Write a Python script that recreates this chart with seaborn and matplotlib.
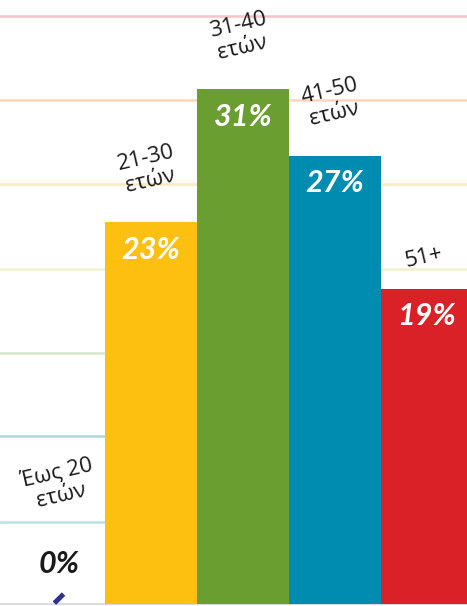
import matplotlib
matplotlib.use("Agg")
import matplotlib.pyplot as plt
import seaborn as sns
import pandas as pd

# age groups and share of respondents (%)
categories = ["Έως 20", "21-30", "31-40", "41-50", "51+"]
labels = ["Έως 20\nετών", "21-30\nετών", "31-40\nετών", "41-50\nετών", "51+"]
values = [0, 23, 31, 27, 19]
bar_colors = ["#2e3192", "#fdc010", "#6b9e30", "#008cb0", "#da2128"]

# decorative guide lines (in % units)
grid_levels = [4.95, 10.1, 15.15, 20.2, 25.3, 30.35, 35.4]
grid_colors = ["#b9dfe9", "#b3d7db", "#d6e7c9", "#eef3cf", "#fbe9b9", "#fbd6bd", "#f5c3c8"]

df = pd.DataFrame({"group": categories, "pct": values})

sns.set_style("white")
plt.rcParams["font.family"] = ["Open Sans", "DejaVu Sans"]

fig = plt.figure(figsize=(4.67, 6.06), dpi=100)
ax = fig.add_axes([0, 0, 1, 1])

for lvl, col in zip(grid_levels, grid_colors):
    ax.axhline(lvl, color=col, lw=1.8, zorder=0)
ax.axhline(0, color="#d4d6dc", lw=1.2, zorder=0)

sns.barplot(data=df, x="group", y="pct", hue="group", palette=bar_colors,
            width=1.0, legend=False, ax=ax, saturation=1, zorder=2,
            linewidth=0, edgecolor="none")

pct_font = dict(fontsize=22, fontweight="bold", fontstyle="italic",
                family=["Lato", "DejaVu Sans"], zorder=3)
lab_font = dict(ha="center", va="center", rotation=13, rotation_mode="anchor",
                fontsize=16, color="#1a1a1a", linespacing=1.15,
                multialignment="center")

for i, (lab, v) in enumerate(zip(labels, values)):
    if v > 0:
        ax.text(i, v - 1.65, f"{v}%", ha="center", va="center", color="white",
                **pct_font)
        off = 3.2 if "\n" in lab else 1.9
        ax.text(i - 0.03, v + off, lab, **lab_font)
    else:
        # zero bar drawn as a small slanted tick
        ax.plot([i - 0.05, i + 0.05], [0.05, 0.6], color=bar_colors[i],
                lw=3.5, solid_capstyle="butt", zorder=3)
        ax.text(i, v + 2.4, f"{v}%", ha="center", va="center", color="#1a1a1a",
                **pct_font)
        ax.text(i, v + 7.2, lab, **lab_font)

ax.set_xlim(-0.641, 4.435)
ax.set_ylim(-0.12, 36.39)
ax.set_xlabel("")
ax.set_ylabel("")
ax.set_xticks([])
ax.set_yticks([])
for s in ax.spines.values():
    s.set_visible(False)

plt.savefig("out.png", dpi=100)
plt.close()
